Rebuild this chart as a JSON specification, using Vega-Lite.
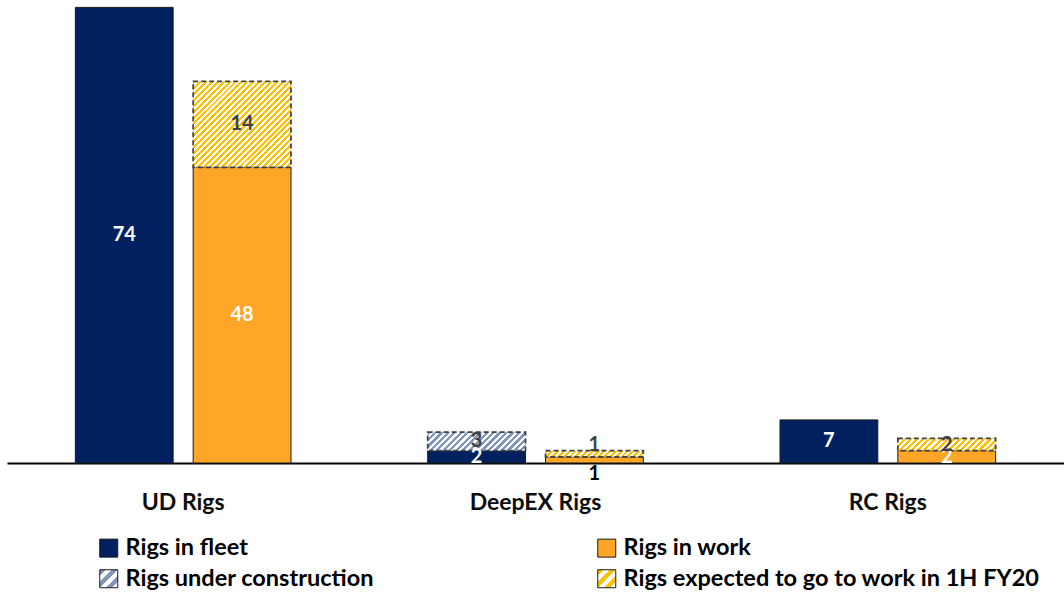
{
  "$schema": "https://vega.github.io/schema/vega-lite/v6.json",
  "width": 1057,
  "height": 463,
  "padding": {"left": 7, "top": 0, "right": 0, "bottom": 0},
  "background": "white",
  "params": [
    {"name": "legB", "value": {"gradient": "linear", "x1": 0, "y1": 0, "x2": 1, "y2": 1, "stops": [
      {"offset": 0, "color": "#7F95BE"}, {"offset": 0.1667, "color": "#7F95BE"}, {"offset": 0.1667, "color": "#ffffff"}, {"offset": 0.3333, "color": "#ffffff"},
      {"offset": 0.3333, "color": "#7F95BE"}, {"offset": 0.5, "color": "#7F95BE"}, {"offset": 0.5, "color": "#ffffff"}, {"offset": 0.6667, "color": "#ffffff"},
      {"offset": 0.6667, "color": "#7F95BE"}, {"offset": 0.8333, "color": "#7F95BE"}, {"offset": 0.8333, "color": "#ffffff"}, {"offset": 1, "color": "#ffffff"}]}},
    {"name": "legY", "value": {"gradient": "linear", "x1": 0, "y1": 0, "x2": 1, "y2": 1, "stops": [
      {"offset": 0, "color": "#FFC000"}, {"offset": 0.1667, "color": "#FFC000"}, {"offset": 0.1667, "color": "#ffffff"}, {"offset": 0.3333, "color": "#ffffff"},
      {"offset": 0.3333, "color": "#FFC000"}, {"offset": 0.5, "color": "#FFC000"}, {"offset": 0.5, "color": "#ffffff"}, {"offset": 0.6667, "color": "#ffffff"},
      {"offset": 0.6667, "color": "#FFC000"}, {"offset": 0.8333, "color": "#FFC000"}, {"offset": 0.8333, "color": "#ffffff"}, {"offset": 1, "color": "#ffffff"}]}}
  ],
  "data": {"values": [
    {"group": "UD Rigs", "bar": "Fleet", "series": "Rigs in fleet", "pos": "base", "value": 74},
    {"group": "UD Rigs", "bar": "Work", "series": "Rigs in work", "pos": "base", "value": 48},
    {"group": "UD Rigs", "bar": "Work", "series": "Rigs expected to go to work in 1H FY20", "pos": "top", "value": 14},
    {"group": "DeepEX Rigs", "bar": "Fleet", "series": "Rigs in fleet", "pos": "base", "value": 2},
    {"group": "DeepEX Rigs", "bar": "Fleet", "series": "Rigs under construction", "pos": "top", "value": 3},
    {"group": "DeepEX Rigs", "bar": "Work", "series": "Rigs in work", "pos": "base", "value": 1},
    {"group": "DeepEX Rigs", "bar": "Work", "series": "Rigs expected to go to work in 1H FY20", "pos": "top", "value": 1},
    {"group": "RC Rigs", "bar": "Fleet", "series": "Rigs in fleet", "pos": "base", "value": 7},
    {"group": "RC Rigs", "bar": "Work", "series": "Rigs in work", "pos": "base", "value": 2},
    {"group": "RC Rigs", "bar": "Work", "series": "Rigs expected to go to work in 1H FY20", "pos": "top", "value": 2}
  ]},
  "transform": [
    {"stack": "value", "groupby": ["group", "bar"], "sort": [{"field": "pos", "order": "ascending"}], "as": ["v0", "v1"]},
    {"calculate": "(datum.v0 + datum.v1) / 2", "as": "mid"}
  ],
  "encoding": {
    "x": {"field": "group", "type": "nominal", "title": null,
      "scale": {"domain": ["UD Rigs", "DeepEX Rigs", "RC Rigs"], "paddingInner": 0, "paddingOuter": 0},
      "axis": {"domain": true, "domainColor": "#000000", "domainWidth": 2, "ticks": false, "tickSize": 0, "labelAngle": 0,
        "labelFont": "Lato", "labelFontWeight": "bold", "labelFontSize": 23, "labelColor": "#0d0d0d", "labelPadding": 28}},
    "xOffset": {"field": "bar", "type": "nominal", "scale": {"domain": ["Fleet", "Work"], "paddingInner": 0.17, "paddingOuter": 0.58}}
  },
  "layer": [
    {
      "transform": [{"filter": "datum.pos === 'base'"}],
      "mark": {"type": "bar", "stroke": "#1a1a1a", "strokeWidth": 1},
      "encoding": {
        "y": {"field": "v1", "type": "quantitative", "scale": {"domain": [0, 75.2], "nice": false, "zero": true}, "axis": null},
        "y2": {"field": "v0"},
        "color": {"field": "series", "type": "nominal",
          "scale": {"domain": ["Rigs in fleet", "Rigs under construction", "Rigs in work", "Rigs expected to go to work in 1H FY20"],
                    "range": ["#002060", {"expr": "legB"}, "#FFA629", {"expr": "legY"}]},
          "legend": {"title": null, "orient": "none", "legendX": 90, "legendY": 536, "columns": 2, "columnPadding": 221, "rowPadding": 6,
            "symbolType": "square", "symbolSize": 324, "symbolStrokeWidth": 1, "labelOffset": 5,
            "labelFont": "Lato", "labelFontWeight": "bold", "labelFontSize": 23.5, "labelColor": "#000000", "labelLimit": 600, "padding": 0}}
      }
    },
    {
      "transform": [{"filter": "datum.group === 'UD Rigs' && datum.pos === 'top'"}],
      "mark": {"type": "bar", "stroke": "#404040", "strokeWidth": 1.75, "strokeDash": [5, 3],
        "fill": {"gradient": "linear", "x1": 0, "y1": 0, "x2": 1.0588, "y2": 0.9333, "stops": [
          {"offset": 0, "color": "#FFC000"}, {"offset": 0.0161, "color": "#FFC000"}, {"offset": 0.0161, "color": "#ffffff"}, {"offset": 0.0323, "color": "#ffffff"},
          {"offset": 0.0323, "color": "#FFC000"}, {"offset": 0.0484, "color": "#FFC000"}, {"offset": 0.0484, "color": "#ffffff"}, {"offset": 0.0645, "color": "#ffffff"},
          {"offset": 0.0645, "color": "#FFC000"}, {"offset": 0.0806, "color": "#FFC000"}, {"offset": 0.0806, "color": "#ffffff"}, {"offset": 0.0968, "color": "#ffffff"},
          {"offset": 0.0968, "color": "#FFC000"}, {"offset": 0.1129, "color": "#FFC000"}, {"offset": 0.1129, "color": "#ffffff"}, {"offset": 0.1290, "color": "#ffffff"},
          {"offset": 0.1290, "color": "#FFC000"}, {"offset": 0.1452, "color": "#FFC000"}, {"offset": 0.1452, "color": "#ffffff"}, {"offset": 0.1613, "color": "#ffffff"},
          {"offset": 0.1613, "color": "#FFC000"}, {"offset": 0.1774, "color": "#FFC000"}, {"offset": 0.1774, "color": "#ffffff"}, {"offset": 0.1935, "color": "#ffffff"},
          {"offset": 0.1935, "color": "#FFC000"}, {"offset": 0.2097, "color": "#FFC000"}, {"offset": 0.2097, "color": "#ffffff"}, {"offset": 0.2258, "color": "#ffffff"},
          {"offset": 0.2258, "color": "#FFC000"}, {"offset": 0.2419, "color": "#FFC000"}, {"offset": 0.2419, "color": "#ffffff"}, {"offset": 0.2581, "color": "#ffffff"},
          {"offset": 0.2581, "color": "#FFC000"}, {"offset": 0.2742, "color": "#FFC000"}, {"offset": 0.2742, "color": "#ffffff"}, {"offset": 0.2903, "color": "#ffffff"},
          {"offset": 0.2903, "color": "#FFC000"}, {"offset": 0.3065, "color": "#FFC000"}, {"offset": 0.3065, "color": "#ffffff"}, {"offset": 0.3226, "color": "#ffffff"},
          {"offset": 0.3226, "color": "#FFC000"}, {"offset": 0.3387, "color": "#FFC000"}, {"offset": 0.3387, "color": "#ffffff"}, {"offset": 0.3548, "color": "#ffffff"},
          {"offset": 0.3548, "color": "#FFC000"}, {"offset": 0.3710, "color": "#FFC000"}, {"offset": 0.3710, "color": "#ffffff"}, {"offset": 0.3871, "color": "#ffffff"},
          {"offset": 0.3871, "color": "#FFC000"}, {"offset": 0.4032, "color": "#FFC000"}, {"offset": 0.4032, "color": "#ffffff"}, {"offset": 0.4194, "color": "#ffffff"},
          {"offset": 0.4194, "color": "#FFC000"}, {"offset": 0.4355, "color": "#FFC000"}, {"offset": 0.4355, "color": "#ffffff"}, {"offset": 0.4516, "color": "#ffffff"},
          {"offset": 0.4516, "color": "#FFC000"}, {"offset": 0.4677, "color": "#FFC000"}, {"offset": 0.4677, "color": "#ffffff"}, {"offset": 0.4839, "color": "#ffffff"},
          {"offset": 0.4839, "color": "#FFC000"}, {"offset": 0.5, "color": "#FFC000"}, {"offset": 0.5, "color": "#ffffff"}, {"offset": 0.5161, "color": "#ffffff"},
          {"offset": 0.5161, "color": "#FFC000"}, {"offset": 0.5323, "color": "#FFC000"}, {"offset": 0.5323, "color": "#ffffff"}, {"offset": 0.5484, "color": "#ffffff"},
          {"offset": 0.5484, "color": "#FFC000"}, {"offset": 0.5645, "color": "#FFC000"}, {"offset": 0.5645, "color": "#ffffff"}, {"offset": 0.5806, "color": "#ffffff"},
          {"offset": 0.5806, "color": "#FFC000"}, {"offset": 0.5968, "color": "#FFC000"}, {"offset": 0.5968, "color": "#ffffff"}, {"offset": 0.6129, "color": "#ffffff"},
          {"offset": 0.6129, "color": "#FFC000"}, {"offset": 0.6290, "color": "#FFC000"}, {"offset": 0.6290, "color": "#ffffff"}, {"offset": 0.6452, "color": "#ffffff"},
          {"offset": 0.6452, "color": "#FFC000"}, {"offset": 0.6613, "color": "#FFC000"}, {"offset": 0.6613, "color": "#ffffff"}, {"offset": 0.6774, "color": "#ffffff"},
          {"offset": 0.6774, "color": "#FFC000"}, {"offset": 0.6935, "color": "#FFC000"}, {"offset": 0.6935, "color": "#ffffff"}, {"offset": 0.7097, "color": "#ffffff"},
          {"offset": 0.7097, "color": "#FFC000"}, {"offset": 0.7258, "color": "#FFC000"}, {"offset": 0.7258, "color": "#ffffff"}, {"offset": 0.7419, "color": "#ffffff"},
          {"offset": 0.7419, "color": "#FFC000"}, {"offset": 0.7581, "color": "#FFC000"}, {"offset": 0.7581, "color": "#ffffff"}, {"offset": 0.7742, "color": "#ffffff"},
          {"offset": 0.7742, "color": "#FFC000"}, {"offset": 0.7903, "color": "#FFC000"}, {"offset": 0.7903, "color": "#ffffff"}, {"offset": 0.8065, "color": "#ffffff"},
          {"offset": 0.8065, "color": "#FFC000"}, {"offset": 0.8226, "color": "#FFC000"}, {"offset": 0.8226, "color": "#ffffff"}, {"offset": 0.8387, "color": "#ffffff"},
          {"offset": 0.8387, "color": "#FFC000"}, {"offset": 0.8548, "color": "#FFC000"}, {"offset": 0.8548, "color": "#ffffff"}, {"offset": 0.8710, "color": "#ffffff"},
          {"offset": 0.8710, "color": "#FFC000"}, {"offset": 0.8871, "color": "#FFC000"}, {"offset": 0.8871, "color": "#ffffff"}, {"offset": 0.9032, "color": "#ffffff"},
          {"offset": 0.9032, "color": "#FFC000"}, {"offset": 0.9194, "color": "#FFC000"}, {"offset": 0.9194, "color": "#ffffff"}, {"offset": 0.9355, "color": "#ffffff"},
          {"offset": 0.9355, "color": "#FFC000"}, {"offset": 0.9516, "color": "#FFC000"}, {"offset": 0.9516, "color": "#ffffff"}, {"offset": 0.9677, "color": "#ffffff"},
          {"offset": 0.9677, "color": "#FFC000"}, {"offset": 0.9839, "color": "#FFC000"}, {"offset": 0.9839, "color": "#ffffff"}, {"offset": 1, "color": "#ffffff"}]}},
      "encoding": {
        "y": {"field": "v1", "type": "quantitative"},
        "y2": {"field": "v0"}
      }
    },
    {
      "transform": [{"filter": "datum.series === 'Rigs under construction'"}],
      "mark": {"type": "bar", "stroke": "#404040", "strokeWidth": 1.75, "strokeDash": [5, 3],
        "fill": {"gradient": "linear", "x1": 0, "y1": 0, "x2": 1.1479, "y2": 0.2168, "stops": [
          {"offset": 0, "color": "#7F95BE"}, {"offset": 0.0278, "color": "#7F95BE"}, {"offset": 0.0278, "color": "#ffffff"}, {"offset": 0.0556, "color": "#ffffff"},
          {"offset": 0.0556, "color": "#7F95BE"}, {"offset": 0.0833, "color": "#7F95BE"}, {"offset": 0.0833, "color": "#ffffff"}, {"offset": 0.1111, "color": "#ffffff"},
          {"offset": 0.1111, "color": "#7F95BE"}, {"offset": 0.1389, "color": "#7F95BE"}, {"offset": 0.1389, "color": "#ffffff"}, {"offset": 0.1667, "color": "#ffffff"},
          {"offset": 0.1667, "color": "#7F95BE"}, {"offset": 0.1944, "color": "#7F95BE"}, {"offset": 0.1944, "color": "#ffffff"}, {"offset": 0.2222, "color": "#ffffff"},
          {"offset": 0.2222, "color": "#7F95BE"}, {"offset": 0.25, "color": "#7F95BE"}, {"offset": 0.25, "color": "#ffffff"}, {"offset": 0.2778, "color": "#ffffff"},
          {"offset": 0.2778, "color": "#7F95BE"}, {"offset": 0.3056, "color": "#7F95BE"}, {"offset": 0.3056, "color": "#ffffff"}, {"offset": 0.3333, "color": "#ffffff"},
          {"offset": 0.3333, "color": "#7F95BE"}, {"offset": 0.3611, "color": "#7F95BE"}, {"offset": 0.3611, "color": "#ffffff"}, {"offset": 0.3889, "color": "#ffffff"},
          {"offset": 0.3889, "color": "#7F95BE"}, {"offset": 0.4167, "color": "#7F95BE"}, {"offset": 0.4167, "color": "#ffffff"}, {"offset": 0.4444, "color": "#ffffff"},
          {"offset": 0.4444, "color": "#7F95BE"}, {"offset": 0.4722, "color": "#7F95BE"}, {"offset": 0.4722, "color": "#ffffff"}, {"offset": 0.5, "color": "#ffffff"},
          {"offset": 0.5, "color": "#7F95BE"}, {"offset": 0.5278, "color": "#7F95BE"}, {"offset": 0.5278, "color": "#ffffff"}, {"offset": 0.5556, "color": "#ffffff"},
          {"offset": 0.5556, "color": "#7F95BE"}, {"offset": 0.5833, "color": "#7F95BE"}, {"offset": 0.5833, "color": "#ffffff"}, {"offset": 0.6111, "color": "#ffffff"},
          {"offset": 0.6111, "color": "#7F95BE"}, {"offset": 0.6389, "color": "#7F95BE"}, {"offset": 0.6389, "color": "#ffffff"}, {"offset": 0.6667, "color": "#ffffff"},
          {"offset": 0.6667, "color": "#7F95BE"}, {"offset": 0.6944, "color": "#7F95BE"}, {"offset": 0.6944, "color": "#ffffff"}, {"offset": 0.7222, "color": "#ffffff"},
          {"offset": 0.7222, "color": "#7F95BE"}, {"offset": 0.75, "color": "#7F95BE"}, {"offset": 0.75, "color": "#ffffff"}, {"offset": 0.7778, "color": "#ffffff"},
          {"offset": 0.7778, "color": "#7F95BE"}, {"offset": 0.8056, "color": "#7F95BE"}, {"offset": 0.8056, "color": "#ffffff"}, {"offset": 0.8333, "color": "#ffffff"},
          {"offset": 0.8333, "color": "#7F95BE"}, {"offset": 0.8611, "color": "#7F95BE"}, {"offset": 0.8611, "color": "#ffffff"}, {"offset": 0.8889, "color": "#ffffff"},
          {"offset": 0.8889, "color": "#7F95BE"}, {"offset": 0.9167, "color": "#7F95BE"}, {"offset": 0.9167, "color": "#ffffff"}, {"offset": 0.9444, "color": "#ffffff"},
          {"offset": 0.9444, "color": "#7F95BE"}, {"offset": 0.9722, "color": "#7F95BE"}, {"offset": 0.9722, "color": "#ffffff"}, {"offset": 1, "color": "#ffffff"}]}},
      "encoding": {
        "y": {"field": "v1", "type": "quantitative"},
        "y2": {"field": "v0"}
      }
    },
    {
      "transform": [{"filter": "datum.group === 'DeepEX Rigs' && datum.series === 'Rigs expected to go to work in 1H FY20'"}],
      "mark": {"type": "bar", "stroke": "#404040", "strokeWidth": 1.75, "strokeDash": [5, 3],
        "fill": {"gradient": "linear", "x1": 0, "y1": 0, "x2": 1.0588, "y2": 0.0667, "stops": [
          {"offset": 0, "color": "#FFC000"}, {"offset": 0.0278, "color": "#FFC000"}, {"offset": 0.0278, "color": "#ffffff"}, {"offset": 0.0556, "color": "#ffffff"},
          {"offset": 0.0556, "color": "#FFC000"}, {"offset": 0.0833, "color": "#FFC000"}, {"offset": 0.0833, "color": "#ffffff"}, {"offset": 0.1111, "color": "#ffffff"},
          {"offset": 0.1111, "color": "#FFC000"}, {"offset": 0.1389, "color": "#FFC000"}, {"offset": 0.1389, "color": "#ffffff"}, {"offset": 0.1667, "color": "#ffffff"},
          {"offset": 0.1667, "color": "#FFC000"}, {"offset": 0.1944, "color": "#FFC000"}, {"offset": 0.1944, "color": "#ffffff"}, {"offset": 0.2222, "color": "#ffffff"},
          {"offset": 0.2222, "color": "#FFC000"}, {"offset": 0.25, "color": "#FFC000"}, {"offset": 0.25, "color": "#ffffff"}, {"offset": 0.2778, "color": "#ffffff"},
          {"offset": 0.2778, "color": "#FFC000"}, {"offset": 0.3056, "color": "#FFC000"}, {"offset": 0.3056, "color": "#ffffff"}, {"offset": 0.3333, "color": "#ffffff"},
          {"offset": 0.3333, "color": "#FFC000"}, {"offset": 0.3611, "color": "#FFC000"}, {"offset": 0.3611, "color": "#ffffff"}, {"offset": 0.3889, "color": "#ffffff"},
          {"offset": 0.3889, "color": "#FFC000"}, {"offset": 0.4167, "color": "#FFC000"}, {"offset": 0.4167, "color": "#ffffff"}, {"offset": 0.4444, "color": "#ffffff"},
          {"offset": 0.4444, "color": "#FFC000"}, {"offset": 0.4722, "color": "#FFC000"}, {"offset": 0.4722, "color": "#ffffff"}, {"offset": 0.5, "color": "#ffffff"},
          {"offset": 0.5, "color": "#FFC000"}, {"offset": 0.5278, "color": "#FFC000"}, {"offset": 0.5278, "color": "#ffffff"}, {"offset": 0.5556, "color": "#ffffff"},
          {"offset": 0.5556, "color": "#FFC000"}, {"offset": 0.5833, "color": "#FFC000"}, {"offset": 0.5833, "color": "#ffffff"}, {"offset": 0.6111, "color": "#ffffff"},
          {"offset": 0.6111, "color": "#FFC000"}, {"offset": 0.6389, "color": "#FFC000"}, {"offset": 0.6389, "color": "#ffffff"}, {"offset": 0.6667, "color": "#ffffff"},
          {"offset": 0.6667, "color": "#FFC000"}, {"offset": 0.6944, "color": "#FFC000"}, {"offset": 0.6944, "color": "#ffffff"}, {"offset": 0.7222, "color": "#ffffff"},
          {"offset": 0.7222, "color": "#FFC000"}, {"offset": 0.75, "color": "#FFC000"}, {"offset": 0.75, "color": "#ffffff"}, {"offset": 0.7778, "color": "#ffffff"},
          {"offset": 0.7778, "color": "#FFC000"}, {"offset": 0.8056, "color": "#FFC000"}, {"offset": 0.8056, "color": "#ffffff"}, {"offset": 0.8333, "color": "#ffffff"},
          {"offset": 0.8333, "color": "#FFC000"}, {"offset": 0.8611, "color": "#FFC000"}, {"offset": 0.8611, "color": "#ffffff"}, {"offset": 0.8889, "color": "#ffffff"},
          {"offset": 0.8889, "color": "#FFC000"}, {"offset": 0.9167, "color": "#FFC000"}, {"offset": 0.9167, "color": "#ffffff"}, {"offset": 0.9444, "color": "#ffffff"},
          {"offset": 0.9444, "color": "#FFC000"}, {"offset": 0.9722, "color": "#FFC000"}, {"offset": 0.9722, "color": "#ffffff"}, {"offset": 1, "color": "#ffffff"}]}},
      "encoding": {
        "y": {"field": "v1", "type": "quantitative"},
        "y2": {"field": "v0"}
      }
    },
    {
      "transform": [{"filter": "datum.group === 'RC Rigs' && datum.series === 'Rigs expected to go to work in 1H FY20'"}],
      "mark": {"type": "bar", "stroke": "#404040", "strokeWidth": 1.75, "strokeDash": [5, 3],
        "fill": {"gradient": "linear", "x1": 0, "y1": 0, "x2": 1.1083, "y2": 0.1395, "stops": [
          {"offset": 0, "color": "#FFC000"}, {"offset": 0.0278, "color": "#FFC000"}, {"offset": 0.0278, "color": "#ffffff"}, {"offset": 0.0556, "color": "#ffffff"},
          {"offset": 0.0556, "color": "#FFC000"}, {"offset": 0.0833, "color": "#FFC000"}, {"offset": 0.0833, "color": "#ffffff"}, {"offset": 0.1111, "color": "#ffffff"},
          {"offset": 0.1111, "color": "#FFC000"}, {"offset": 0.1389, "color": "#FFC000"}, {"offset": 0.1389, "color": "#ffffff"}, {"offset": 0.1667, "color": "#ffffff"},
          {"offset": 0.1667, "color": "#FFC000"}, {"offset": 0.1944, "color": "#FFC000"}, {"offset": 0.1944, "color": "#ffffff"}, {"offset": 0.2222, "color": "#ffffff"},
          {"offset": 0.2222, "color": "#FFC000"}, {"offset": 0.25, "color": "#FFC000"}, {"offset": 0.25, "color": "#ffffff"}, {"offset": 0.2778, "color": "#ffffff"},
          {"offset": 0.2778, "color": "#FFC000"}, {"offset": 0.3056, "color": "#FFC000"}, {"offset": 0.3056, "color": "#ffffff"}, {"offset": 0.3333, "color": "#ffffff"},
          {"offset": 0.3333, "color": "#FFC000"}, {"offset": 0.3611, "color": "#FFC000"}, {"offset": 0.3611, "color": "#ffffff"}, {"offset": 0.3889, "color": "#ffffff"},
          {"offset": 0.3889, "color": "#FFC000"}, {"offset": 0.4167, "color": "#FFC000"}, {"offset": 0.4167, "color": "#ffffff"}, {"offset": 0.4444, "color": "#ffffff"},
          {"offset": 0.4444, "color": "#FFC000"}, {"offset": 0.4722, "color": "#FFC000"}, {"offset": 0.4722, "color": "#ffffff"}, {"offset": 0.5, "color": "#ffffff"},
          {"offset": 0.5, "color": "#FFC000"}, {"offset": 0.5278, "color": "#FFC000"}, {"offset": 0.5278, "color": "#ffffff"}, {"offset": 0.5556, "color": "#ffffff"},
          {"offset": 0.5556, "color": "#FFC000"}, {"offset": 0.5833, "color": "#FFC000"}, {"offset": 0.5833, "color": "#ffffff"}, {"offset": 0.6111, "color": "#ffffff"},
          {"offset": 0.6111, "color": "#FFC000"}, {"offset": 0.6389, "color": "#FFC000"}, {"offset": 0.6389, "color": "#ffffff"}, {"offset": 0.6667, "color": "#ffffff"},
          {"offset": 0.6667, "color": "#FFC000"}, {"offset": 0.6944, "color": "#FFC000"}, {"offset": 0.6944, "color": "#ffffff"}, {"offset": 0.7222, "color": "#ffffff"},
          {"offset": 0.7222, "color": "#FFC000"}, {"offset": 0.75, "color": "#FFC000"}, {"offset": 0.75, "color": "#ffffff"}, {"offset": 0.7778, "color": "#ffffff"},
          {"offset": 0.7778, "color": "#FFC000"}, {"offset": 0.8056, "color": "#FFC000"}, {"offset": 0.8056, "color": "#ffffff"}, {"offset": 0.8333, "color": "#ffffff"},
          {"offset": 0.8333, "color": "#FFC000"}, {"offset": 0.8611, "color": "#FFC000"}, {"offset": 0.8611, "color": "#ffffff"}, {"offset": 0.8889, "color": "#ffffff"},
          {"offset": 0.8889, "color": "#FFC000"}, {"offset": 0.9167, "color": "#FFC000"}, {"offset": 0.9167, "color": "#ffffff"}, {"offset": 0.9444, "color": "#ffffff"},
          {"offset": 0.9444, "color": "#FFC000"}, {"offset": 0.9722, "color": "#FFC000"}, {"offset": 0.9722, "color": "#ffffff"}, {"offset": 1, "color": "#ffffff"}]}},
      "encoding": {
        "y": {"field": "v1", "type": "quantitative"},
        "y2": {"field": "v0"}
      }
    },
    {
      "transform": [{"filter": "!(datum.group === 'DeepEX Rigs' && datum.bar === 'Work')"}],
      "mark": {"type": "text", "font": "Lato", "fontWeight": "bold", "fontSize": 20, "baseline": "middle", "align": "center"},
      "encoding": {
        "y": {"field": "mid", "type": "quantitative"},
        "text": {"field": "value", "type": "quantitative"},
        "color": {"condition": {"test": "datum.pos === 'base'", "value": "#ffffff"}, "value": "#404040"}
      }
    },
    {
      "transform": [{"filter": "datum.group === 'DeepEX Rigs' && datum.bar === 'Work' && datum.pos === 'top'"}],
      "mark": {"type": "text", "font": "Lato", "fontWeight": "bold", "fontSize": 20, "baseline": "middle", "align": "center", "dy": -6, "color": "#404040"},
      "encoding": {
        "y": {"field": "v1", "type": "quantitative"},
        "text": {"field": "value", "type": "quantitative"}
      }
    },
    {
      "transform": [{"filter": "datum.group === 'DeepEX Rigs' && datum.bar === 'Work' && datum.pos === 'base'"}],
      "mark": {"type": "text", "font": "Lato", "fontWeight": "bold", "fontSize": 20, "baseline": "middle", "align": "center", "dy": 11, "color": "#000000"},
      "encoding": {
        "y": {"field": "v0", "type": "quantitative"},
        "text": {"field": "value", "type": "quantitative"}
      }
    }
  ],
  "config": {
    "view": {"stroke": null},
    "font": "Lato"
  }
}
